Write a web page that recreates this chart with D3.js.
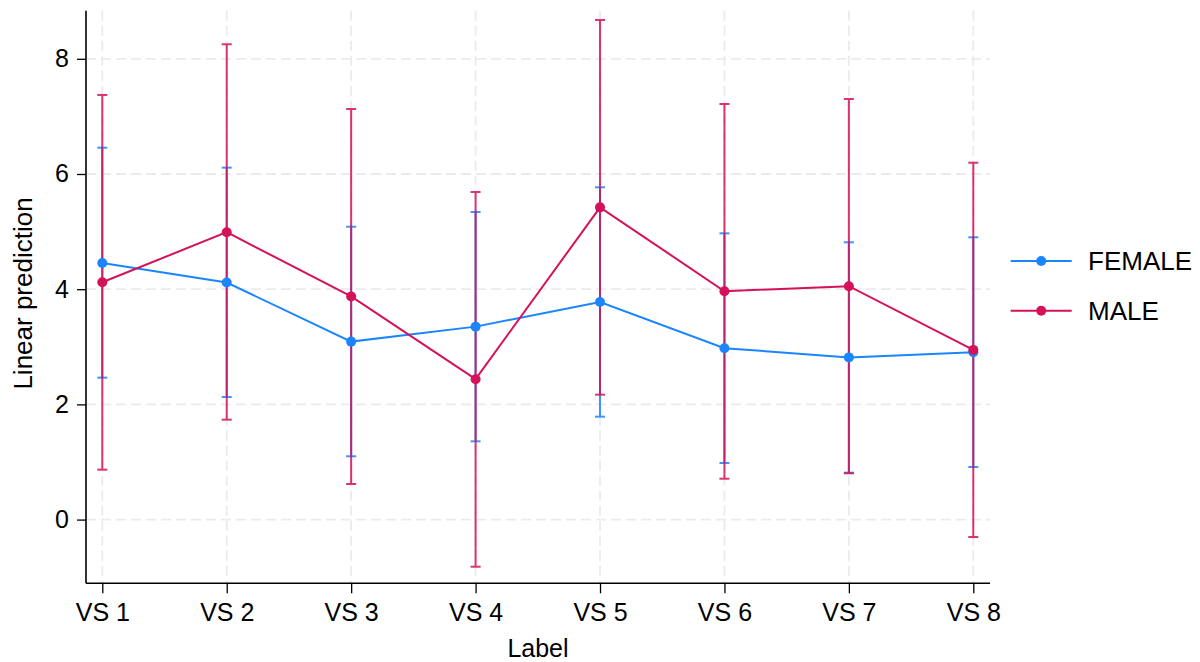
<!DOCTYPE html>
<html>
<head>
<meta charset="utf-8">
<script src="https://cdn.jsdelivr.net/npm/d3@7"></script>
<style>
  html, body { margin: 0; padding: 0; background: #fff; }
  svg { display: block; font-family: "Liberation Sans", Arial, Helvetica, sans-serif; }
</style>
</head>
<body>
<svg id="chart" width="1200" height="662"></svg>
<script>
// ---- data ----
const categories = ["VS 1", "VS 2", "VS 3", "VS 4", "VS 5", "VS 6", "VS 7", "VS 8"];
const seriesNames = ["FEMALE", "MALE"];
const femaleMean  = [4.455, 4.115, 3.090, 3.350, 3.778, 2.976, 2.816, 2.906];
const femaleLower = [2.464, 2.128, 1.099, 1.359, 1.787, 0.983, 0.815, 0.913];
const femaleUpper = [6.457, 6.110, 5.085, 5.340, 5.769, 4.970, 4.814, 4.901];
const maleMean    = [4.120, 4.990, 3.874, 2.438, 5.421, 3.965, 4.052, 2.946];
const maleLower   = [0.867, 1.735, 0.618, -0.818, 2.169, 0.710, 0.804, -0.302];
const maleUpper   = [7.372, 8.252, 7.128, 5.688, 8.674, 7.215, 7.302, 6.196];
const yTicks = [0, 2, 4, 6, 8];
const yTitle = "Linear prediction";
const xTitle = "Label";

(function () {
// ---- layout ----
const svg = d3.select("#chart");
const pL = 86, pR = 990, pT = 10.7, pB = 583.3;
const colors = { FEMALE: "#1a85ff", MALE: "#d41159" };

const x = d3.scalePoint().domain(categories).range([102.3, 973.3]);
const y = d3.scaleLinear().domain([-1.106, 8.835]).range([pB, pT]);

const series = [
  { name: seriesNames[0], mean: femaleMean, lo: femaleLower, hi: femaleUpper },
  { name: seriesNames[1], mean: maleMean, lo: maleLower, hi: maleUpper }
].map(s => ({ ...s, pts: categories.map((c, i) => ({ c, m: s.mean[i], lo: s.lo[i], hi: s.hi[i] })) }));

// grid
const grid = svg.append("g");
grid.selectAll("line.h").data(yTicks).join("line")
  .attr("x1", pL).attr("x2", pR)
  .attr("y1", d => y(d)).attr("y2", d => y(d))
  .attr("stroke", "#ebebeb").attr("stroke-width", 1.8).attr("stroke-dasharray", "10,5");
grid.selectAll("line.v").data(categories).join("line")
  .attr("x1", d => x(d)).attr("x2", d => x(d))
  .attr("y1", pT).attr("y2", pB)
  .attr("stroke", "#ebebeb").attr("stroke-width", 1.8).attr("stroke-dasharray", "10,5");

// axes
const yAxis = svg.append("g").attr("transform", `translate(${pL},0)`)
  .call(d3.axisLeft(y).tickValues(yTicks).tickSize(9).tickPadding(8).tickFormat(d3.format("d")));
const xAxis = svg.append("g").attr("transform", `translate(0,${pB})`)
  .call(d3.axisBottom(x).tickSize(10).tickPadding(10));
[yAxis, xAxis].forEach(a => {
  a.selectAll("text").attr("font-size", 25).attr("fill", "#000")
    .attr("font-family", '"Liberation Sans", Arial, sans-serif');
  a.selectAll("line").attr("stroke", "#000").attr("stroke-width", 1.3);
});
yAxis.select(".domain").attr("d", `M0,${pT}V${pB}`).attr("stroke", "#000").attr("stroke-width", 1.6);
xAxis.select(".domain").attr("d", `M${pL},0H${pR}`).attr("stroke", "#000").attr("stroke-width", 1.6);
xAxis.selectAll(".tick text").attr("dy", "0.71em");

// titles
svg.append("text").attr("x", (pL + pR) / 2).attr("y", 657)
  .attr("text-anchor", "middle").attr("font-size", 25).attr("fill", "#000").text(xTitle);
svg.append("text").attr("transform", "translate(32,293.5) rotate(-90)")
  .attr("text-anchor", "middle").attr("font-size", 26).attr("fill", "#000").text(yTitle);

// error bars
const capW = 5;
series.forEach(s => {
  const g = svg.append("g").attr("stroke", colors[s.name]).attr("stroke-width", 2).attr("opacity", 0.85);
  g.selectAll("line.ci").data(s.pts).join("line")
    .attr("x1", d => x(d.c)).attr("x2", d => x(d.c))
    .attr("y1", d => y(d.lo)).attr("y2", d => y(d.hi));
  g.selectAll("line.capH").data(s.pts).join("line")
    .attr("x1", d => x(d.c) - capW).attr("x2", d => x(d.c) + capW)
    .attr("y1", d => y(d.hi)).attr("y2", d => y(d.hi));
  g.selectAll("line.capL").data(s.pts).join("line")
    .attr("x1", d => x(d.c) - capW).attr("x2", d => x(d.c) + capW)
    .attr("y1", d => y(d.lo)).attr("y2", d => y(d.lo));
});

// lines and markers
const line = d3.line().x(d => x(d.c)).y(d => y(d.m));
series.forEach(s => {
  svg.append("path").datum(s.pts).attr("d", line)
    .attr("fill", "none").attr("stroke", colors[s.name]).attr("stroke-width", 2);
  svg.append("g").selectAll("circle").data(s.pts).join("circle")
    .attr("cx", d => x(d.c)).attr("cy", d => y(d.m)).attr("r", 5)
    .attr("fill", colors[s.name]);
});

// legend
const legY = [261, 310.7];
series.forEach((s, i) => {
  const g = svg.append("g");
  g.append("line").attr("x1", 1010.7).attr("x2", 1071.7).attr("y1", legY[i]).attr("y2", legY[i])
    .attr("stroke", colors[s.name]).attr("stroke-width", 2);
  g.append("circle").attr("cx", 1041.2).attr("cy", legY[i]).attr("r", 5).attr("fill", colors[s.name]);
  g.append("text").attr("x", 1088).attr("y", legY[i]).attr("dy", "0.36em")
    .attr("font-size", 26).attr("fill", "#000").text(s.name);
});
})();
</script>
</body>
</html>
